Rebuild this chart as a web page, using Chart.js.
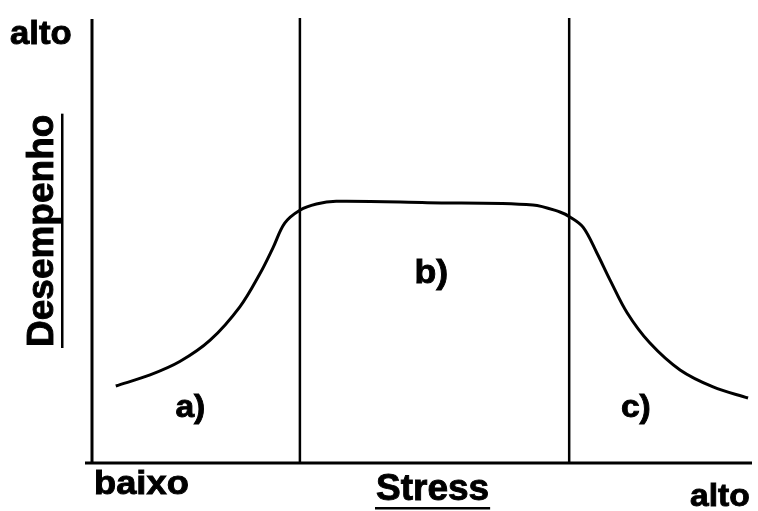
<!DOCTYPE html>
<html>
<head>
<meta charset="utf-8">
<script src="https://cdn.jsdelivr.net/npm/chart.js@4/dist/chart.umd.min.js"></script>
<style>
  html, body { margin: 0; padding: 0; background: #fff; }
  #wrap { width: 758px; height: 511px; }
</style>
</head>
<body>
<div id="wrap"><canvas id="canvas"></canvas></div>
<script>
// stress (0-100) vs performance (0-100)
var stress = [3.6, 8.8, 13.3, 17.9, 22.4, 25.5, 27.4, 29.2, 31.5, 34.0, 37.0, 50.8, 66.8, 70.9, 72.4, 74.4, 76.5, 78.5, 81.1, 84.5, 89.1, 94.1, 99.4];
var desempenho = [17.3, 19.8, 22.8, 27.6, 35.1, 42.7, 48.3, 53.9, 56.8, 58.2, 58.8, 58.5, 58.0, 56.4, 55.3, 53.0, 47.2, 41.1, 33.7, 27.0, 20.9, 17.1, 14.6];

var limites = [31.5, 72.3];
var zonas = ['a)', 'b)', 'c)'];
var zonaX = [14.9, 51.4, 82.4];
var zonaY = [10.3, 40.4, 10.3];

var ctx = document.getElementById('canvas').getContext('2d');

var curva = stress.map(function (x, i) { return { x: x, y: desempenho[i] }; });

var datasets = [{
  data: curva,
  borderColor: '#000',
  borderWidth: 3,
  pointRadius: 0,
  tension: 0.35
}];
limites.forEach(function (x) {
  datasets.push({
    data: [{ x: x, y: 0 }, { x: x, y: 100.5 }],
    borderColor: '#000',
    borderWidth: 2.5,
    pointRadius: 0
  });
});

var FONTE = '"Liberation Sans", Arial, sans-serif';

function texto(c, str, x, y, size, scaleX, underline, align) {
  c.save();
  c.translate(x, y);
  c.scale(scaleX, 1);
  c.font = 'bold ' + size + 'px ' + FONTE;
  c.fillStyle = '#000';
  c.strokeStyle = '#000';
  c.lineWidth = 0.9;
  c.textAlign = align || 'left';
  c.textBaseline = 'alphabetic';
  c.fillText(str, 0, 0);
  c.strokeText(str, 0, 0);
  if (underline) {
    var w = c.measureText(str).width;
    c.fillRect(-1, underline, w + 2, 2.5);
  }
  c.restore();
}

var rotulos = {
  id: 'rotulos',
  afterDraw: function (chart) {
    var c = chart.ctx;
    var sx = chart.scales.x, sy = chart.scales.y;
    // eixos
    c.save();
    c.fillStyle = '#000';
    c.fillRect(sx.left - 1.5, 19, 3, sy.bottom - 19);
    c.fillRect(85, sy.bottom - 1.5, sx.right - 85, 3);
    c.restore();

    zonas.forEach(function (z, i) {
      var px = sx.getPixelForValue(zonaX[i]);
      var py = sy.getPixelForValue(zonaY[i]);
      texto(c, z, px, py, i === 1 ? 34 : 32, 1.05, 0, 'center');
    });

    texto(c, 'alto', 10, 44, 33, 1.05, 0);
    texto(c, 'baixo', 94, 494, 33, 1.1, 0);
    texto(c, 'Stress', 376, 500, 37, 1.0, 7);
    texto(c, 'alto', 690, 506, 32, 1.05, 0);

    c.save();
    c.translate(53, 347);
    c.rotate(-Math.PI / 2);
    c.font = 'bold 37px ' + FONTE;
    c.fillStyle = '#000';
    c.strokeStyle = '#000';
    c.lineWidth = 0.9;
    c.fillText('Desempenho', 0, 0);
    c.strokeText('Desempenho', 0, 0);
    var w = c.measureText('Desempenho').width;
    c.fillRect(-1, 8, w + 2, 2.5);
    c.restore();
  }
};

new Chart(ctx, {
  type: 'line',
  data: { datasets: datasets },
  options: {
    responsive: true,
    maintainAspectRatio: false,
    animation: false,
    layout: { padding: { left: 92, right: 6, top: 18, bottom: 48 } },
    plugins: { legend: { display: false }, tooltip: { enabled: false } },
    scales: {
      x: {
        type: 'linear', min: 0, max: 100,
        ticks: { display: false },
        grid: { display: false, drawTicks: false },
        border: { display: false }
      },
      y: {
        type: 'linear', min: 0, max: 100,
        ticks: { display: false },
        grid: { display: false, drawTicks: false },
        border: { display: false }
      }
    }
  },
  plugins: [rotulos]
});
</script>
</body>
</html>
